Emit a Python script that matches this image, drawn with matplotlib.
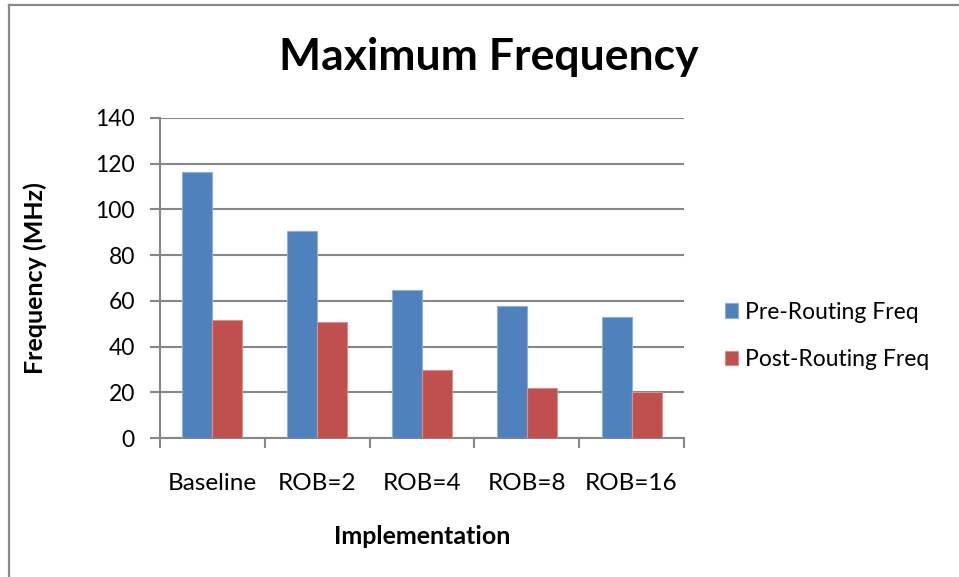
import numpy as np
import matplotlib.pyplot as plt
from matplotlib.lines import Line2D

plt.rcParams['font.family'] = ['Lato', 'DejaVu Sans']

categories = ['Baseline', 'ROB=2', 'ROB=4', 'ROB=8', 'ROB=16']
pre_routing = [116.2, 90.5, 64.9, 57.9, 52.8]
post_routing = [51.7, 50.7, 29.7, 21.8, 20.2]

blue = '#4F81BD'
red = '#C0504D'
grid_gray = '#878787'

fig = plt.figure(figsize=(9.59, 5.77), dpi=100)
ax = fig.add_axes([0.1668, 0.2404, 0.5464, 0.5556])

x = np.arange(len(categories))
w = 1 / 3.5
ax.bar(x - w / 2, pre_routing, w, color=blue, edgecolor='#8FB0DA', linewidth=0.8,
       label='Pre-Routing Freq', zorder=3)
ax.bar(x + w / 2, post_routing, w, color=red, edgecolor='#DA8F8D', linewidth=0.8,
       label='Post-Routing Freq', zorder=3)

ax.set_xlim(-0.5, len(categories) - 0.5)
ax.set_ylim(0, 140)
ax.set_yticks(np.arange(0, 141, 20))
ax.yaxis.grid(True, color=grid_gray, linewidth=1.5, zorder=0)
ax.set_axisbelow(True)

# category ticks sit on the group boundaries, labels in the middle
ax.set_xticks(np.arange(-0.5, len(categories), 1))
ax.set_xticklabels([])
ax.set_xticks(x, minor=True)
ax.set_xticklabels(categories, minor=True, fontsize=17.5)
ax.tick_params(axis='x', which='minor', length=0, pad=25)
ax.tick_params(axis='x', which='major', length=7, width=1.5, color=grid_gray)
ax.tick_params(axis='y', length=7, width=1.5, color=grid_gray, labelsize=16.5, pad=11)

for side in ['top', 'right']:
    ax.spines[side].set_visible(False)
for side in ['left', 'bottom']:
    ax.spines[side].set_color(grid_gray)
    ax.spines[side].set_linewidth(1.5)

ax.set_ylabel('Frequency (MHz)', fontsize=18, fontweight='bold', va='center')
ax.yaxis.set_label_coords(-0.2385, 0.5)
ax.set_xlabel('Implementation', fontsize=18, fontweight='bold', va='center')
ax.xaxis.set_label_coords(0.5, -0.305)
fig.text(0.51, 0.901, 'Maximum Frequency', fontsize=32, fontweight='bold',
         ha='center', va='center')

fig.legend(loc='center left', bbox_to_anchor=(0.734, 0.418), frameon=False,
           fontsize=16.5, handlelength=0.6, handleheight=0.6, handletextpad=0.3,
           labelspacing=1.15)

# chart frame (left and top edges)
fig.add_artist(Line2D([9 / 959, 9 / 959], [0, 1 - 5 / 577], color='#8A8A8A',
                      linewidth=1.6, transform=fig.transFigure))
fig.add_artist(Line2D([9 / 959, 1], [1 - 5 / 577, 1 - 5 / 577], color='#8A8A8A',
                      linewidth=1.6, transform=fig.transFigure))

fig.savefig('out.png', dpi=100)
